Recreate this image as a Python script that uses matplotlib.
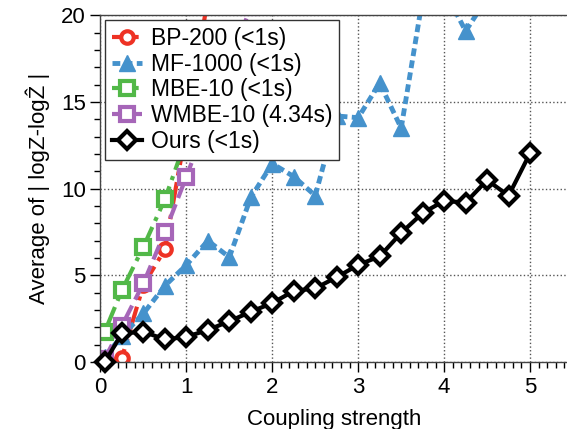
import numpy as np
import matplotlib
matplotlib.use('Agg')
import matplotlib.pyplot as plt
import matplotlib.ticker as ticker

plt.rcParams['font.family'] = ['Liberation Sans', 'DejaVu Sans']

# Values
x_bp = [0.05, 0.25, 0.5, 0.75, 1.0, 1.25]
y_bp = [0.0, 0.25, 4.45, 6.5, 13.5, 21.0]

x_mf = [0.05, 0.25, 0.5, 0.75, 1.0, 1.25, 1.5, 1.75, 2.0, 2.25, 2.5, 2.75,
        3.0, 3.25, 3.5, 3.75, 4.0, 4.25, 4.5]
y_mf = [0.3, 1.5, 2.8, 4.4, 5.6, 7.0, 6.05, 9.5, 11.45, 10.7, 9.6, 14.2,
        14.1, 16.1, 13.5, 21.0, 21.5, 19.1, 21.0]

x_mbe = [0.05, 0.25, 0.5, 0.75, 1.0, 1.25]
y_mbe = [1.75, 4.15, 6.65, 9.4, 12.9, 17.0]

x_wmbe = [0.05, 0.25, 0.5, 0.75, 1.0, 1.25, 1.5, 1.75, 2.0]
y_wmbe = [0.2, 2.1, 4.55, 7.5, 10.7, 14.0, 17.2, 20.5, 24.0]

x_ours = [0.05, 0.25, 0.5, 0.75, 1.0, 1.25, 1.5, 1.75, 2.0, 2.25, 2.5, 2.75,
          3.0, 3.25, 3.5, 3.75, 4.0, 4.25, 4.5, 4.75, 5.0]
y_ours = [0.0, 1.65, 1.75, 1.3, 1.45, 1.85, 2.35, 2.9, 3.4, 4.1, 4.25, 4.9,
          5.6, 6.1, 7.45, 8.6, 9.3, 9.2, 10.5, 9.6, 12.05]

fig = plt.figure(figsize=(5.67, 4.29), dpi=100)
ax = fig.add_axes([0.1772, 0.1562, 0.8228, 0.8077])

ax.plot(x_bp, y_bp, color='#EE3224', linestyle='-.', linewidth=3,
        marker='o', markersize=9, markerfacecolor='white', markeredgewidth=3,
        label='BP-200 (<1s)')
ax.plot(x_mf, y_mf, color='#4592CC', linestyle=(0, (1.6, 0.9)), linewidth=3.5,
        marker='^', markersize=11, markeredgewidth=1,
        label='MF-1000 (<1s)')
ax.plot(x_mbe, y_mbe, color='#52B848', linestyle='-.', linewidth=3,
        marker='s', markersize=10, markerfacecolor='white', markeredgewidth=3,
        label='MBE-10 (<1s)')
ax.plot(x_wmbe, y_wmbe, color='#A666B8', linestyle='--', linewidth=3,
        marker='s', markersize=10, markerfacecolor='white', markeredgewidth=3,
        label='WMBE-10 (4.34s)')
ax.plot(x_ours, y_ours, color='black', linestyle='-', linewidth=3,
        marker='D', markersize=9, markerfacecolor='white', markeredgewidth=3,
        label='Ours (<1s)', clip_on=False, zorder=5)

ax.set_xlim(0, 5.43)
ax.set_ylim(0, 20)
ax.xaxis.set_major_locator(ticker.MultipleLocator(1))
ax.xaxis.set_minor_locator(ticker.MultipleLocator(0.1))
ax.yaxis.set_major_locator(ticker.MultipleLocator(5))
ax.yaxis.set_minor_locator(ticker.MultipleLocator(1))
ax.tick_params(which='major', direction='out', length=7, width=1, labelsize=16)
ax.tick_params(which='minor', direction='out', length=4, width=1)
ax.spines['right'].set_visible(False)
for s in ['left', 'bottom', 'top']:
    ax.spines[s].set_linewidth(1)
    ax.spines[s].set_color('#444444')

ax.grid(which='major', color='#555555', linestyle=':', linewidth=1)

ax.set_xlabel('Coupling strength', fontsize=16, labelpad=8)
ax.set_ylabel('Average of | logZ-logẐ |', fontsize=16, labelpad=8)

leg = ax.legend(loc='upper left', fontsize=16.5, frameon=True, fancybox=False,
                edgecolor='#333333', framealpha=1, borderaxespad=0.2,
                borderpad=0.3, labelspacing=0.12, handlelength=1.3,
                handletextpad=0.4)
leg.get_frame().set_linewidth(1)

fig.savefig('out.png', dpi=100)
